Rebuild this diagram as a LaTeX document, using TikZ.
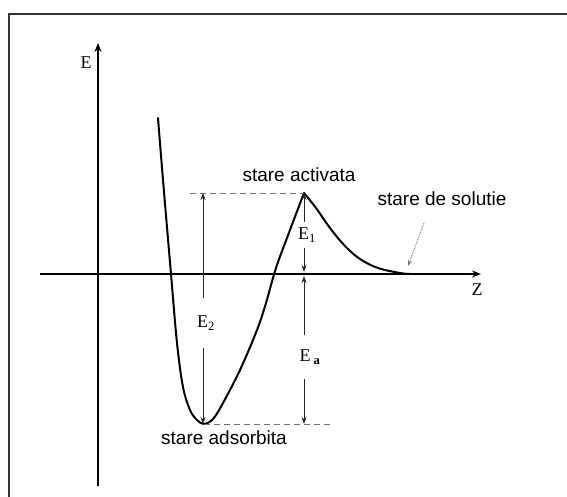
\documentclass[tikz,border=0pt]{standalone}
\usepackage{fontspec}
\setmainfont{Liberation Serif}
\newfontfamily\annotfont{Liberation Sans}
\usetikzlibrary{arrows.meta}

\begin{document}
\begin{tikzpicture}[x=1pt,y=-1pt]
  \tikzset{
    axis/.style={black, line width=1.6pt, -{Stealth[length=9pt,width=7pt]}},
    curve/.style={black, line width=2pt, line join=round, line cap=round},
    meas/.style={black!85, line width=0.8pt, -{Stealth[length=7pt,width=5pt]}},
    guide/.style={black!55, dash pattern=on 6pt off 4pt, line width=0.8pt},
    pointer/.style={black!55, densely dotted, line width=0.9pt, -{Stealth[length=6pt,width=4pt]}},
    state/.style={font=\annotfont\fontsize{19}{22}\selectfont, inner sep=0pt},
    qty/.style={font=\fontsize{18}{20}\selectfont, inner sep=0pt}
  }
  \useasboundingbox (0,0) rectangle (567,497);

  % frame
  \draw[black!80, line width=2pt] (9,497) -- (9,14) -- (567,14);

  % axes
  \coordinate (ebot) at (98,486);
  \coordinate (etop) at (98,43);
  \coordinate (zleft) at (40,274);
  \coordinate (zright) at (481,274);
  \draw[axis] (ebot) -- (etop);
  \draw[axis] (zleft) -- (zright);
  \node[qty] (elab) at (86,63) {E};
  \node[qty] (zlab) at (477,290) {Z};

  % key points
  \coordinate (peak) at (304,193);
  \coordinate (well) at (204,424);

  % potential curve
  \draw[curve] plot[smooth, tension=0.55] coordinates {(158,118) (163,180) (171,274) (177,343) (183,387) (190,410) (197,420) (204,424) (213,419) (223,403) (240,370) (257,330) (266,303) (276,268) (290,230) (304,193)};
  \draw[curve] plot[smooth, tension=0.6] coordinates {(304,193) (316,208) (330,228) (345,246) (360,259) (378,268) (400,273) (410,274)};

  % guide lines
  \coordinate (gtop) at (190,193);
  \coordinate (gbot) at (333,424);
  \draw[guide] (gtop) -- (peak);
  \draw[guide] (well) -- (gbot);

  % state labels
  \node[state] (act) at (299,175) {stare activata};
  \node[state] (sol) at (442,199) {stare de solutie};
  \node[state] (ads) at (224,438) {stare adsorbita};
  \coordinate (solfrom) at (424,223);
  \coordinate (solto) at (408,266);
  \draw[pointer] (solfrom) -- (solto);

  % energy differences
  \coordinate (e2top) at (203,193);
  \coordinate (e2bot) at (203,424);
  \coordinate (e1top) at (304,193);
  \coordinate (e1bot) at (304,272);
  \coordinate (eatop) at (304,276);
  \coordinate (eabot) at (304,424);

  \node[qty, minimum height=49pt] (e2) at (206,323) {E\textsubscript{2}};
  \node[qty, minimum height=25pt] (e1) at (307,235) {E\textsubscript{1}};
  \node[qty, minimum height=43pt] (ea) at (310,357) {E\,\textsubscript{\bfseries a}};

  \draw[meas] (e2.north -| e2top) -- (e2top);
  \draw[meas] (e2.south -| e2bot) -- (e2bot);
  \draw[meas] (e1.north -| e1top) -- (e1top);
  \draw[meas] (e1.south -| e1bot) -- (e1bot);
  \draw[meas] (ea.north -| eatop) -- (eatop);
  \draw[meas] (ea.south -| eabot) -- (eabot);
\end{tikzpicture}
\end{document}
